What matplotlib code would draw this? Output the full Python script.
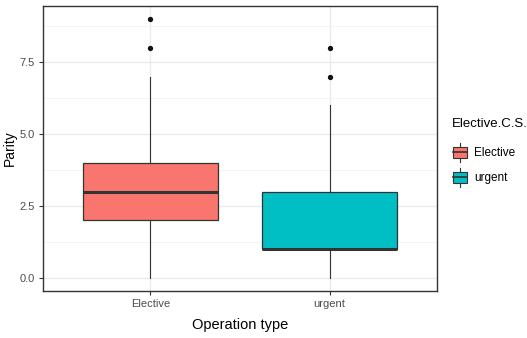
import matplotlib
matplotlib.use("Agg")
import matplotlib.pyplot as plt
from matplotlib.patches import Rectangle
from matplotlib.lines import Line2D
from matplotlib.legend_handler import HandlerBase

plt.rcParams['font.family'] = ['Liberation Sans Narrow', 'Liberation Sans', 'DejaVu Sans']

categories = ["Elective", "urgent"]
colors = ["#F8766D", "#00BFC4"]
whisker_low = [0, 0]
q1 = [2, 1]
median = [3, 1]
q3 = [4, 3]
whisker_high = [7, 6]
outliers = [[8, 9], [7, 8]]
y_ticks = [0.0, 2.5, 5.0, 7.5]
y_tick_labels = ["0.0", "2.5", "5.0", "7.5"]

fig = plt.figure(figsize=(5.27, 3.38), dpi=100)
ax = fig.add_axes([43 / 527, 47 / 338, 394 / 527, 285 / 338])

stats = []
for i, c in enumerate(categories):
    stats.append(dict(label=c, whislo=whisker_low[i], q1=q1[i], med=median[i],
                      q3=q3[i], whishi=whisker_high[i], fliers=outliers[i]))

edge = "#333333"
bp = ax.bxp(stats, positions=[1, 2], widths=0.75, patch_artist=True,
            boxprops=dict(edgecolor=edge, linewidth=0.9),
            medianprops=dict(color=edge, linewidth=2.2, solid_capstyle="butt"),
            whiskerprops=dict(color=edge, linewidth=0.8),
            capprops=dict(linewidth=0),
            flierprops=dict(marker="o", markerfacecolor="#111111",
                            markeredgecolor="#111111", markersize=2.8),
            zorder=3)
for patch, col in zip(bp["boxes"], colors):
    patch.set_facecolor(col)

ax.set_xlim(0.4, 2.6)
ax.set_ylim(-0.45, 9.45)
ax.set_xticks([1, 2])
ax.set_xticklabels(categories)
ax.set_yticks(y_ticks)
ax.set_yticklabels(y_tick_labels)
ax.set_yticks([1.25, 3.75, 6.25, 8.75], minor=True)

ax.grid(True, which="major", color="#EBEBEB", linewidth=1.0, zorder=0)
ax.grid(True, which="minor", axis="y", color="#F2F2F2", linewidth=0.6, zorder=0)
ax.set_axisbelow(True)
for s in ax.spines.values():
    s.set_color("#333333")
    s.set_linewidth(1.0)

ax.tick_params(axis="both", which="major", colors="#333333", labelcolor="#4D4D4D",
               labelsize=8, length=3, width=0.8, pad=3)
ax.tick_params(axis="both", which="minor", length=0)

ax.set_xlabel("Operation type", fontsize=10.5, color="black", labelpad=6)
ax.set_ylabel("Parity", fontsize=10, color="black")
ax.yaxis.set_label_coords(-0.066, 0.5)


class BoxKeyHandler(HandlerBase):
    def create_artists(self, legend, orig_handle, xdescent, ydescent, width,
                       height, fontsize, trans):
        col = orig_handle.get_facecolor()
        w = width * 0.9
        x0 = -xdescent + (width - w) / 2
        h = height * 1.0
        y0 = -ydescent + (height - h) / 2
        rect = Rectangle((x0, y0), w, h, facecolor=col, edgecolor=edge,
                         linewidth=0.8, transform=trans)
        cx = -xdescent + width / 2
        top = Line2D([cx, cx], [y0 + h, y0 + h + height * 0.35], color=edge,
                     linewidth=0.8, transform=trans)
        bot = Line2D([cx, cx], [y0 - height * 0.35, y0], color=edge,
                     linewidth=0.8, transform=trans)
        mid = Line2D([x0, x0 + w], [y0 + h / 2, y0 + h / 2], color=edge,
                     linewidth=1.2, transform=trans)
        return [top, bot, rect, mid]


handles = [Rectangle((0, 0), 1, 1, facecolor=c) for c in colors]
leg = fig.legend(handles, categories, loc="upper left",
                 bbox_to_anchor=(452 / 527, 1 - 118 / 338),
                 frameon=False, fontsize=8.5, title="Elective.C.S.",
                 title_fontsize=9.5, handler_map={Rectangle: BoxKeyHandler()},
                 handlelength=1.3, handleheight=1.1, labelspacing=1.05,
                 handletextpad=0.6, borderaxespad=0, borderpad=0)
leg._legend_box.align = "left"
leg._legend_box.sep = 12

fig.savefig("out.png", dpi=100)
